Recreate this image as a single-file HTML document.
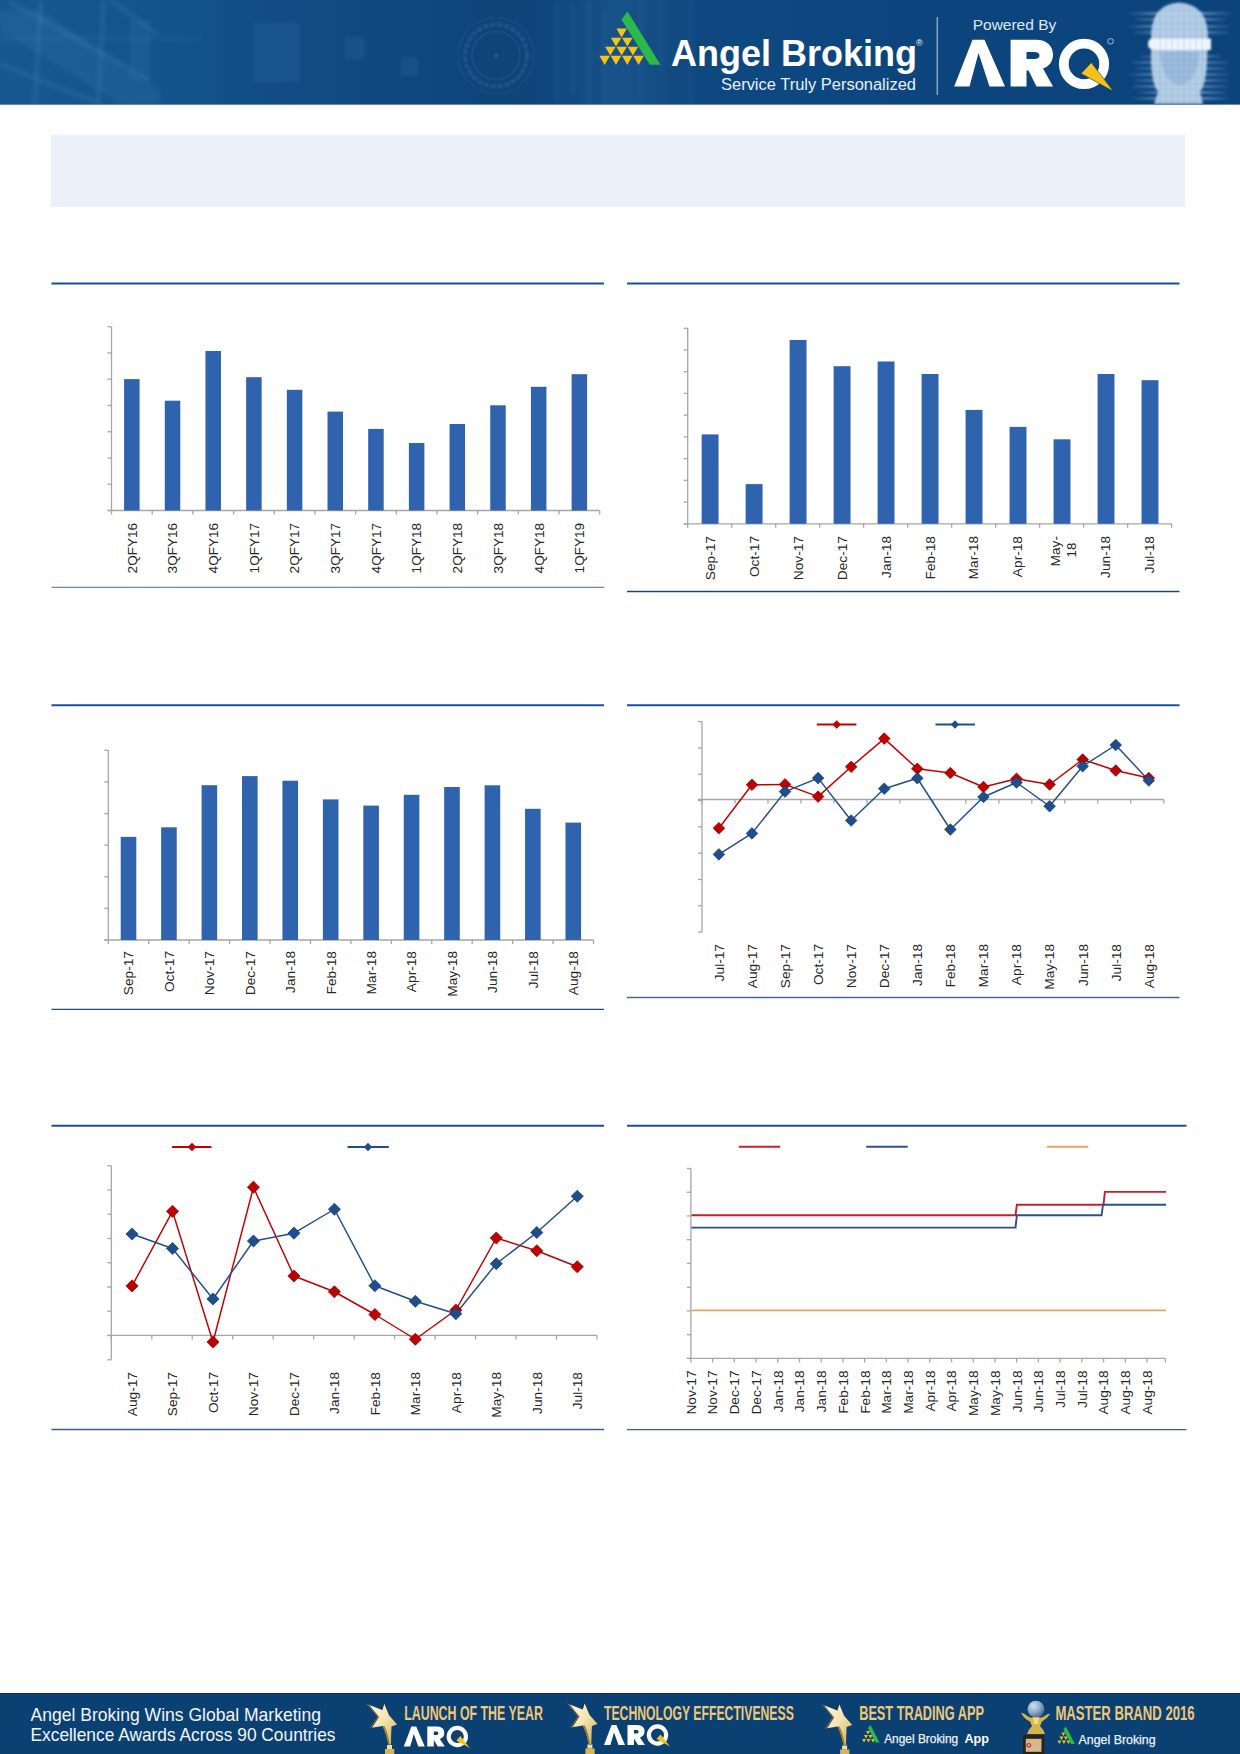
<!DOCTYPE html>
<html><head><meta charset="utf-8">
<style>
html,body{margin:0;padding:0;background:#fff;}
body{width:1240px;height:1754px;position:relative;overflow:hidden;font-family:"Liberation Sans", sans-serif;}
.abs{position:absolute;}
</style></head><body>
<!-- header -->
<div class="abs" style="left:0;top:0;width:1240px;height:105px;background:transparent;overflow:hidden;">
<svg width="1240" height="104" viewBox="0 0 1240 104" style="position:absolute;left:0;top:0" font-family='"Liberation Sans", sans-serif'>
<defs>
<linearGradient id="hbg" x1="0" y1="0" x2="1" y2="0">
<stop offset="0" stop-color="#175891"/>
<stop offset="0.12" stop-color="#14548c"/>
<stop offset="0.25" stop-color="#104b82"/>
<stop offset="0.4" stop-color="#0d4579"/>
<stop offset="0.5" stop-color="#0e477c"/>
<stop offset="0.6" stop-color="#0e4880"/>
<stop offset="0.75" stop-color="#0c457d"/>
<stop offset="1" stop-color="#0b437b"/>
</linearGradient>
<radialGradient id="head" cx="0.5" cy="0.45" r="0.5">
<stop offset="0" stop-color="#c9dcef" stop-opacity="0.85"/>
<stop offset="0.6" stop-color="#a9c6e4" stop-opacity="0.75"/>
<stop offset="1" stop-color="#7aa4d0" stop-opacity="0"/>
</radialGradient>
<linearGradient id="streak" x1="0" y1="0" x2="1" y2="0">
<stop offset="0" stop-color="#9fc0e2" stop-opacity="0"/>
<stop offset="0.5" stop-color="#9fc0e2" stop-opacity="0.55"/>
<stop offset="1" stop-color="#9fc0e2" stop-opacity="0"/>
</linearGradient>
</defs>
<rect width="1240" height="104" fill="url(#hbg)"/>
<!-- left light diagonal lines -->
<filter id="bl1" x="-10%" y="-10%" width="120%" height="120%"><feGaussianBlur stdDeviation="0.9"/></filter><filter id="bl3" x="-20%" y="-20%" width="140%" height="140%"><feGaussianBlur stdDeviation="2.2"/></filter>
<path d="M0 10 L40 10 L160 90 L160 104 L120 104 L0 30 Z" fill="#4f94c8" fill-opacity="0.12" filter="url(#bl3)"/>
<g stroke="#6aa8d6" stroke-opacity="0.26" stroke-width="2.4" fill="none" filter="url(#bl3)">
<line x1="110" y1="0" x2="158" y2="35"/>
<line x1="10" y1="2" x2="150" y2="80"/>
<line x1="0" y1="64" x2="100" y2="104"/>
<line x1="41" y1="0" x2="35" y2="104"/>
<line x1="104" y1="0" x2="98" y2="104"/>
<line x1="0" y1="38" x2="200" y2="38" stroke-opacity="0.12"/>
</g>
<g fill="#3f7fb5" fill-opacity="0.16" filter="url(#bl1)">
<rect x="130" y="20" width="20" height="60"/>
<rect x="254" y="23" width="46" height="59"/>
<rect x="345" y="37" width="19" height="22"/>
<rect x="401" y="57" width="17" height="19"/>
</g>
<!-- lens -->
<circle cx="496" cy="55.5" r="31" fill="none" stroke="#5a94c8" stroke-opacity="0.24" stroke-width="3.5" stroke-dasharray="5 2" filter="url(#bl1)"/>
<circle cx="496" cy="55.5" r="24" fill="none" stroke="#5a94c8" stroke-opacity="0.12" stroke-width="2"/><circle cx="496" cy="55.5" r="38" fill="none" stroke="#5a94c8" stroke-opacity="0.08" stroke-width="2"/>
<circle cx="496" cy="55.5" r="2" fill="#5a90c5" fill-opacity="0.3"/>
<!-- code streaks region near logo -->
<linearGradient id="codeg" x1="0" y1="0" x2="1" y2="0"><stop offset="0" stop-color="#3a7ab5" stop-opacity="0"/><stop offset="0.5" stop-color="#3a7ab5" stop-opacity="0.22"/><stop offset="1" stop-color="#3a7ab5" stop-opacity="0"/></linearGradient>
<rect x="540" y="0" width="160" height="104" fill="url(#codeg)"/>
<g fill="#5c9ad0" fill-opacity="0.2" filter="url(#bl3)">
<rect x="556" y="0" width="1.5" height="104"/><rect x="572" y="5" width="1.5" height="90"/><rect x="588" y="0" width="1.5" height="104"/><rect x="604" y="10" width="1.5" height="94"/><rect x="640" y="0" width="1.5" height="104"/><rect x="660" y="0" width="1.5" height="70"/><rect x="690" y="0" width="1.5" height="104"/>
</g>
<!-- head streaks -->
<filter id="bl2" x="-20%" y="-20%" width="140%" height="140%"><feGaussianBlur stdDeviation="1.3"/></filter>
<linearGradient id="strk" x1="0" y1="0" x2="1" y2="0">
<stop offset="0" stop-color="#9cc0e4" stop-opacity="0.05"/>
<stop offset="0.3" stop-color="#9cc0e4" stop-opacity="0.55"/>
<stop offset="0.7" stop-color="#9cc0e4" stop-opacity="0.55"/>
<stop offset="1" stop-color="#9cc0e4" stop-opacity="0.05"/>
</linearGradient>
<g fill="url(#strk)" filter="url(#bl2)">
<rect x="1129" y="12" width="102" height="3"/>
<rect x="1135" y="18" width="92" height="3"/>
<rect x="1129" y="25" width="100" height="3"/>
<rect x="1133" y="31" width="96" height="3"/>
<rect x="1140" y="55" width="82" height="3"/>
<rect x="1131" y="61" width="98" height="3"/>
<rect x="1135" y="67" width="92" height="3"/>
<rect x="1129" y="73" width="100" height="3"/>
<rect x="1133" y="79" width="96" height="3"/>
<rect x="1131" y="85" width="98" height="3"/>
<rect x="1137" y="91" width="90" height="3"/>
<rect x="1133" y="97" width="96" height="3"/>
</g>
<g filter="url(#bl2)">
<path d="M1151 40 Q1150 4 1179 2.5 Q1209 4 1208 40 L1207 62 Q1206 84 1200 92 L1203 104 L1154 104 L1158 92 Q1152 84 1151 62 Z" fill="#c3d9ef" fill-opacity="0.88"/>
<path d="M1160 53 Q1179 50 1199 53 Q1198 80 1180 86 Q1162 80 1160 53 Z" fill="#6f9ccb" fill-opacity="0.35"/>
<path d="M1152 38.5 L1211 38.5 L1211 50 L1156 50 Q1148 50 1148 44.5 Q1148 38.5 1152 38.5 Z" fill="#eef4fb"/>
</g>
<g stroke="#6f9ccb" stroke-opacity="0.25" stroke-width="0.8">
<line x1="1160" y1="9" x2="1160" y2="104"/><line x1="1166" y1="9" x2="1166" y2="104"/><line x1="1172" y1="9" x2="1172" y2="104"/><line x1="1178" y1="9" x2="1178" y2="104"/><line x1="1184" y1="9" x2="1184" y2="104"/><line x1="1190" y1="9" x2="1190" y2="104"/><line x1="1196" y1="9" x2="1196" y2="104"/><line x1="1202" y1="9" x2="1202" y2="104"/>
</g>
<!-- Angel logo: yellow triangles -->
<g fill="#f6c21a">
<path d="M616.4 28.4 L626.9 28.4 L621.65 37.5 Z"/>
<path d="M610.8 37.7 L621.3 37.7 L616.05 46.6 Z"/>
<path d="M622.1 37.7 L632.6 37.7 L627.35 46.6 Z"/>
<path d="M605.1 46.7 L615.6 46.7 L610.35 55.6 Z"/>
<path d="M616.4 46.7 L626.9 46.7 L621.65 55.6 Z"/>
<path d="M627.7 46.7 L638.2 46.7 L632.95 55.6 Z"/>
<path d="M599.4 55.8 L609.9 55.8 L604.65 65 Z"/>
<path d="M610.7 55.8 L621.2 55.8 L615.95 65 Z"/>
<path d="M622 55.8 L632.5 55.8 L627.25 65 Z"/>
<path d="M633.3 55.8 L643.8 55.8 L638.55 65 Z"/>
</g>
<path d="M621.5 19.5 L627.5 11.5 L660.5 64.8 L649.8 64.8 Z" fill="#2db84a"/>
<text x="671" y="65.6" font-size="36" font-weight="bold" fill="#fff">Angel Broking</text>
<text x="916" y="46" font-size="9" fill="#fff">®</text>
<text x="721" y="90" font-size="17.3" fill="#e8f0f8" textLength="195" lengthAdjust="spacingAndGlyphs">Service Truly Personalized</text>
<rect x="936.5" y="17" width="1.6" height="78" fill="#7f9ec4"/>
<text x="972.7" y="30" font-size="15.5" fill="#dfe8f3">Powered By</text>
<!-- ARQ -->
<path d="M954.2 86.5 L972.5 39.7 L984.5 39.7 L1005 86.5 L989.5 86.5 L978.5 53 L969.5 86.5 Z" fill="#fff"/>
<path d="M1010.6 86.5 L1010.6 39.7 L1036 39.7 C1047 39.7 1053 46 1053 54.5 C1053 61.5 1049 66.5 1043 68.5 L1053 86.5 L1036.5 86.5 L1028.5 70.5 L1026.5 70.5 L1026.5 86.5 Z M1026.5 52 L1026.5 59 L1034.5 59 C1037.5 59 1039.5 57.5 1039.5 55.5 C1039.5 53.5 1037.5 52 1034.5 52 Z" fill="#fff" fill-rule="evenodd"/>
<circle cx="1084" cy="63.9" r="20.2" fill="none" stroke="#fff" stroke-width="9.8"/>
<path d="M1081 73.5 L1091.3 62.5 L1113.5 91.5 Z" fill="#f5c21b" stroke="#1a2a40" stroke-width="0.6"/>
<circle cx="1110.6" cy="41.3" r="2.8" fill="none" stroke="#cfdcea" stroke-width="0.8"/>
</svg>
<div style="position:absolute;left:0;top:104px;width:1240px;height:1px;background:#0a3a6a;opacity:0.6;"></div>

</div>
<!-- grey box -->
<div class="abs" style="left:51px;top:135px;width:1134px;height:72px;background:#eaf1f9;"></div>
<svg class="abs" style="left:0;top:0" width="1240" height="1754" viewBox="0 0 1240 1754" font-family='"Liberation Sans", sans-serif' fill="#262626">
<line x1="51.5" y1="283.4" x2="604" y2="283.4" stroke="#1b4f9a" stroke-width="2.0"/>
<line x1="627" y1="283.4" x2="1179.5" y2="283.4" stroke="#1b4f9a" stroke-width="2.0"/>
<line x1="51.5" y1="705.2" x2="604" y2="705.2" stroke="#1b4f9a" stroke-width="2.0"/>
<line x1="627" y1="705.2" x2="1179.5" y2="705.2" stroke="#1b4f9a" stroke-width="2.0"/>
<line x1="51.5" y1="1125.7" x2="604" y2="1125.7" stroke="#1b4f9a" stroke-width="2.0"/>
<line x1="627" y1="1125.7" x2="1186.5" y2="1125.7" stroke="#1b4f9a" stroke-width="2.0"/>
<line x1="51.5" y1="587.4" x2="604" y2="587.4" stroke="#7189ab" stroke-width="1.4"/>
<line x1="627" y1="591.5" x2="1179.5" y2="591.5" stroke="#23457a" stroke-width="1.4"/>
<line x1="51.5" y1="1009.4" x2="604" y2="1009.4" stroke="#2b4c7e" stroke-width="1.4"/>
<line x1="627" y1="997.5" x2="1179.5" y2="997.5" stroke="#4a6999" stroke-width="1.4"/>
<line x1="51.5" y1="1429.5" x2="604" y2="1429.5" stroke="#3d5d8f" stroke-width="1.4"/>
<line x1="627" y1="1429.6" x2="1186.5" y2="1429.6" stroke="#3d5d8f" stroke-width="1.4"/>
<line x1="111.5" y1="326.7" x2="111.5" y2="510.5" stroke="#a6a6a6" stroke-width="1.3"/>
<line x1="107.5" y1="326.7" x2="111.5" y2="326.7" stroke="#a6a6a6" stroke-width="1.3"/>
<line x1="107.5" y1="352.96" x2="111.5" y2="352.96" stroke="#a6a6a6" stroke-width="1.3"/>
<line x1="107.5" y1="379.21" x2="111.5" y2="379.21" stroke="#a6a6a6" stroke-width="1.3"/>
<line x1="107.5" y1="405.47" x2="111.5" y2="405.47" stroke="#a6a6a6" stroke-width="1.3"/>
<line x1="107.5" y1="431.73" x2="111.5" y2="431.73" stroke="#a6a6a6" stroke-width="1.3"/>
<line x1="107.5" y1="457.99" x2="111.5" y2="457.99" stroke="#a6a6a6" stroke-width="1.3"/>
<line x1="107.5" y1="484.24" x2="111.5" y2="484.24" stroke="#a6a6a6" stroke-width="1.3"/>
<line x1="107.5" y1="510.5" x2="111.5" y2="510.5" stroke="#a6a6a6" stroke-width="1.3"/>
<line x1="107.5" y1="510.5" x2="599.7" y2="510.5" stroke="#a6a6a6" stroke-width="1.3"/>
<line x1="111.5" y1="510.5" x2="111.5" y2="514.5" stroke="#a6a6a6" stroke-width="1.3"/>
<line x1="152.18" y1="510.5" x2="152.18" y2="514.5" stroke="#a6a6a6" stroke-width="1.3"/>
<line x1="192.87" y1="510.5" x2="192.87" y2="514.5" stroke="#a6a6a6" stroke-width="1.3"/>
<line x1="233.55" y1="510.5" x2="233.55" y2="514.5" stroke="#a6a6a6" stroke-width="1.3"/>
<line x1="274.23" y1="510.5" x2="274.23" y2="514.5" stroke="#a6a6a6" stroke-width="1.3"/>
<line x1="314.92" y1="510.5" x2="314.92" y2="514.5" stroke="#a6a6a6" stroke-width="1.3"/>
<line x1="355.6" y1="510.5" x2="355.6" y2="514.5" stroke="#a6a6a6" stroke-width="1.3"/>
<line x1="396.28" y1="510.5" x2="396.28" y2="514.5" stroke="#a6a6a6" stroke-width="1.3"/>
<line x1="436.97" y1="510.5" x2="436.97" y2="514.5" stroke="#a6a6a6" stroke-width="1.3"/>
<line x1="477.65" y1="510.5" x2="477.65" y2="514.5" stroke="#a6a6a6" stroke-width="1.3"/>
<line x1="518.33" y1="510.5" x2="518.33" y2="514.5" stroke="#a6a6a6" stroke-width="1.3"/>
<line x1="559.02" y1="510.5" x2="559.02" y2="514.5" stroke="#a6a6a6" stroke-width="1.3"/>
<line x1="599.7" y1="510.5" x2="599.7" y2="514.5" stroke="#a6a6a6" stroke-width="1.3"/>
<rect x="124.09" y="379.1" width="15.5" height="131.4" fill="#2f63ae"/>
<text transform="translate(136.69,522.9) rotate(-90)" text-anchor="end" font-size="13.3" textLength="50.5" lengthAdjust="spacingAndGlyphs">2QFY16</text>
<rect x="164.78" y="400.7" width="15.5" height="109.8" fill="#2f63ae"/>
<text transform="translate(177.37,522.9) rotate(-90)" text-anchor="end" font-size="13.3" textLength="50.5" lengthAdjust="spacingAndGlyphs">3QFY16</text>
<rect x="205.46" y="351" width="15.5" height="159.5" fill="#2f63ae"/>
<text transform="translate(218.06,522.9) rotate(-90)" text-anchor="end" font-size="13.3" textLength="50.5" lengthAdjust="spacingAndGlyphs">4QFY16</text>
<rect x="246.14" y="377.2" width="15.5" height="133.3" fill="#2f63ae"/>
<text transform="translate(258.74,522.9) rotate(-90)" text-anchor="end" font-size="13.3" textLength="50.5" lengthAdjust="spacingAndGlyphs">1QFY17</text>
<rect x="286.83" y="389.8" width="15.5" height="120.7" fill="#2f63ae"/>
<text transform="translate(299.42,522.9) rotate(-90)" text-anchor="end" font-size="13.3" textLength="50.5" lengthAdjust="spacingAndGlyphs">2QFY17</text>
<rect x="327.51" y="411.6" width="15.5" height="98.9" fill="#2f63ae"/>
<text transform="translate(340.11,522.9) rotate(-90)" text-anchor="end" font-size="13.3" textLength="50.5" lengthAdjust="spacingAndGlyphs">3QFY17</text>
<rect x="368.19" y="428.9" width="15.5" height="81.6" fill="#2f63ae"/>
<text transform="translate(380.79,522.9) rotate(-90)" text-anchor="end" font-size="13.3" textLength="50.5" lengthAdjust="spacingAndGlyphs">4QFY17</text>
<rect x="408.88" y="443" width="15.5" height="67.5" fill="#2f63ae"/>
<text transform="translate(421.47,522.9) rotate(-90)" text-anchor="end" font-size="13.3" textLength="50.5" lengthAdjust="spacingAndGlyphs">1QFY18</text>
<rect x="449.56" y="424" width="15.5" height="86.5" fill="#2f63ae"/>
<text transform="translate(462.16,522.9) rotate(-90)" text-anchor="end" font-size="13.3" textLength="50.5" lengthAdjust="spacingAndGlyphs">2QFY18</text>
<rect x="490.24" y="405.3" width="15.5" height="105.2" fill="#2f63ae"/>
<text transform="translate(502.84,522.9) rotate(-90)" text-anchor="end" font-size="13.3" textLength="50.5" lengthAdjust="spacingAndGlyphs">3QFY18</text>
<rect x="530.93" y="386.8" width="15.5" height="123.7" fill="#2f63ae"/>
<text transform="translate(543.52,522.9) rotate(-90)" text-anchor="end" font-size="13.3" textLength="50.5" lengthAdjust="spacingAndGlyphs">4QFY18</text>
<rect x="571.61" y="374.2" width="15.5" height="136.3" fill="#2f63ae"/>
<text transform="translate(584.21,522.9) rotate(-90)" text-anchor="end" font-size="13.3" textLength="50.5" lengthAdjust="spacingAndGlyphs">1QFY19</text>
<line x1="687.7" y1="328.3" x2="687.7" y2="523.8" stroke="#a6a6a6" stroke-width="1.3"/>
<line x1="683.7" y1="328.3" x2="687.7" y2="328.3" stroke="#a6a6a6" stroke-width="1.3"/>
<line x1="683.7" y1="350.02" x2="687.7" y2="350.02" stroke="#a6a6a6" stroke-width="1.3"/>
<line x1="683.7" y1="371.74" x2="687.7" y2="371.74" stroke="#a6a6a6" stroke-width="1.3"/>
<line x1="683.7" y1="393.47" x2="687.7" y2="393.47" stroke="#a6a6a6" stroke-width="1.3"/>
<line x1="683.7" y1="415.19" x2="687.7" y2="415.19" stroke="#a6a6a6" stroke-width="1.3"/>
<line x1="683.7" y1="436.91" x2="687.7" y2="436.91" stroke="#a6a6a6" stroke-width="1.3"/>
<line x1="683.7" y1="458.63" x2="687.7" y2="458.63" stroke="#a6a6a6" stroke-width="1.3"/>
<line x1="683.7" y1="480.36" x2="687.7" y2="480.36" stroke="#a6a6a6" stroke-width="1.3"/>
<line x1="683.7" y1="502.08" x2="687.7" y2="502.08" stroke="#a6a6a6" stroke-width="1.3"/>
<line x1="683.7" y1="523.8" x2="687.7" y2="523.8" stroke="#a6a6a6" stroke-width="1.3"/>
<line x1="683.7" y1="523.8" x2="1171.6" y2="523.8" stroke="#a6a6a6" stroke-width="1.3"/>
<line x1="687.7" y1="523.8" x2="687.7" y2="527.8" stroke="#a6a6a6" stroke-width="1.3"/>
<line x1="731.69" y1="523.8" x2="731.69" y2="527.8" stroke="#a6a6a6" stroke-width="1.3"/>
<line x1="775.68" y1="523.8" x2="775.68" y2="527.8" stroke="#a6a6a6" stroke-width="1.3"/>
<line x1="819.67" y1="523.8" x2="819.67" y2="527.8" stroke="#a6a6a6" stroke-width="1.3"/>
<line x1="863.66" y1="523.8" x2="863.66" y2="527.8" stroke="#a6a6a6" stroke-width="1.3"/>
<line x1="907.65" y1="523.8" x2="907.65" y2="527.8" stroke="#a6a6a6" stroke-width="1.3"/>
<line x1="951.65" y1="523.8" x2="951.65" y2="527.8" stroke="#a6a6a6" stroke-width="1.3"/>
<line x1="995.64" y1="523.8" x2="995.64" y2="527.8" stroke="#a6a6a6" stroke-width="1.3"/>
<line x1="1039.63" y1="523.8" x2="1039.63" y2="527.8" stroke="#a6a6a6" stroke-width="1.3"/>
<line x1="1083.62" y1="523.8" x2="1083.62" y2="527.8" stroke="#a6a6a6" stroke-width="1.3"/>
<line x1="1127.61" y1="523.8" x2="1127.61" y2="527.8" stroke="#a6a6a6" stroke-width="1.3"/>
<line x1="1171.6" y1="523.8" x2="1171.6" y2="527.8" stroke="#a6a6a6" stroke-width="1.3"/>
<rect x="701.65" y="434.4" width="16.9" height="89.4" fill="#2f63ae"/>
<text transform="translate(714.54,536) rotate(-90) scale(1.03,1)" text-anchor="end" font-size="13.3">Sep-17</text>
<rect x="745.64" y="484.1" width="16.9" height="39.7" fill="#2f63ae"/>
<text transform="translate(758.53,536) rotate(-90) scale(1.03,1)" text-anchor="end" font-size="13.3">Oct-17</text>
<rect x="789.63" y="340" width="16.9" height="183.8" fill="#2f63ae"/>
<text transform="translate(802.53,536) rotate(-90) scale(1.03,1)" text-anchor="end" font-size="13.3">Nov-17</text>
<rect x="833.62" y="366.2" width="16.9" height="157.6" fill="#2f63ae"/>
<text transform="translate(846.52,536) rotate(-90) scale(1.03,1)" text-anchor="end" font-size="13.3">Dec-17</text>
<rect x="877.61" y="361.5" width="16.9" height="162.3" fill="#2f63ae"/>
<text transform="translate(890.51,536) rotate(-90) scale(1.03,1)" text-anchor="end" font-size="13.3">Jan-18</text>
<rect x="921.6" y="374" width="16.9" height="149.8" fill="#2f63ae"/>
<text transform="translate(934.5,536) rotate(-90) scale(1.03,1)" text-anchor="end" font-size="13.3">Feb-18</text>
<rect x="965.59" y="409.9" width="16.9" height="113.9" fill="#2f63ae"/>
<text transform="translate(978.49,536) rotate(-90) scale(1.03,1)" text-anchor="end" font-size="13.3">Mar-18</text>
<rect x="1009.58" y="426.9" width="16.9" height="96.9" fill="#2f63ae"/>
<text transform="translate(1022.48,536) rotate(-90) scale(1.03,1)" text-anchor="end" font-size="13.3">Apr-18</text>
<rect x="1053.57" y="439.3" width="16.9" height="84.5" fill="#2f63ae"/>
<text transform="translate(1059.97,536) rotate(-90) scale(1.03,1)" text-anchor="end" font-size="13.3">May-</text>
<text transform="translate(1076.32,536) rotate(-90)" text-anchor="middle" font-size="13.3" dx="-14">18</text>
<rect x="1097.56" y="374" width="16.9" height="149.8" fill="#2f63ae"/>
<text transform="translate(1110.46,536) rotate(-90) scale(1.03,1)" text-anchor="end" font-size="13.3">Jun-18</text>
<rect x="1141.55" y="380.2" width="16.9" height="143.6" fill="#2f63ae"/>
<text transform="translate(1154.45,536) rotate(-90) scale(1.03,1)" text-anchor="end" font-size="13.3">Jul-18</text>
<line x1="108.3" y1="750.3" x2="108.3" y2="940" stroke="#a6a6a6" stroke-width="1.3"/>
<line x1="104.3" y1="750.3" x2="108.3" y2="750.3" stroke="#a6a6a6" stroke-width="1.3"/>
<line x1="104.3" y1="781.92" x2="108.3" y2="781.92" stroke="#a6a6a6" stroke-width="1.3"/>
<line x1="104.3" y1="813.53" x2="108.3" y2="813.53" stroke="#a6a6a6" stroke-width="1.3"/>
<line x1="104.3" y1="845.15" x2="108.3" y2="845.15" stroke="#a6a6a6" stroke-width="1.3"/>
<line x1="104.3" y1="876.77" x2="108.3" y2="876.77" stroke="#a6a6a6" stroke-width="1.3"/>
<line x1="104.3" y1="908.38" x2="108.3" y2="908.38" stroke="#a6a6a6" stroke-width="1.3"/>
<line x1="104.3" y1="940" x2="108.3" y2="940" stroke="#a6a6a6" stroke-width="1.3"/>
<line x1="104.3" y1="940" x2="593.5" y2="940" stroke="#a6a6a6" stroke-width="1.3"/>
<line x1="108.3" y1="940" x2="108.3" y2="944" stroke="#a6a6a6" stroke-width="1.3"/>
<line x1="148.73" y1="940" x2="148.73" y2="944" stroke="#a6a6a6" stroke-width="1.3"/>
<line x1="189.17" y1="940" x2="189.17" y2="944" stroke="#a6a6a6" stroke-width="1.3"/>
<line x1="229.6" y1="940" x2="229.6" y2="944" stroke="#a6a6a6" stroke-width="1.3"/>
<line x1="270.03" y1="940" x2="270.03" y2="944" stroke="#a6a6a6" stroke-width="1.3"/>
<line x1="310.47" y1="940" x2="310.47" y2="944" stroke="#a6a6a6" stroke-width="1.3"/>
<line x1="350.9" y1="940" x2="350.9" y2="944" stroke="#a6a6a6" stroke-width="1.3"/>
<line x1="391.33" y1="940" x2="391.33" y2="944" stroke="#a6a6a6" stroke-width="1.3"/>
<line x1="431.77" y1="940" x2="431.77" y2="944" stroke="#a6a6a6" stroke-width="1.3"/>
<line x1="472.2" y1="940" x2="472.2" y2="944" stroke="#a6a6a6" stroke-width="1.3"/>
<line x1="512.63" y1="940" x2="512.63" y2="944" stroke="#a6a6a6" stroke-width="1.3"/>
<line x1="553.07" y1="940" x2="553.07" y2="944" stroke="#a6a6a6" stroke-width="1.3"/>
<line x1="593.5" y1="940" x2="593.5" y2="944" stroke="#a6a6a6" stroke-width="1.3"/>
<rect x="120.72" y="836.9" width="15.6" height="103.1" fill="#2f63ae"/>
<text transform="translate(133.36,951) rotate(-90) scale(1.03,1)" text-anchor="end" font-size="13.3">Sep-17</text>
<rect x="161.15" y="827.3" width="15.6" height="112.7" fill="#2f63ae"/>
<text transform="translate(173.8,951) rotate(-90) scale(1.03,1)" text-anchor="end" font-size="13.3">Oct-17</text>
<rect x="201.58" y="785.2" width="15.6" height="154.8" fill="#2f63ae"/>
<text transform="translate(214.23,951) rotate(-90) scale(1.03,1)" text-anchor="end" font-size="13.3">Nov-17</text>
<rect x="242.02" y="776.1" width="15.6" height="163.9" fill="#2f63ae"/>
<text transform="translate(254.66,951) rotate(-90) scale(1.03,1)" text-anchor="end" font-size="13.3">Dec-17</text>
<rect x="282.45" y="780.7" width="15.6" height="159.3" fill="#2f63ae"/>
<text transform="translate(295.1,951) rotate(-90) scale(1.03,1)" text-anchor="end" font-size="13.3">Jan-18</text>
<rect x="322.88" y="799.4" width="15.6" height="140.6" fill="#2f63ae"/>
<text transform="translate(335.53,951) rotate(-90) scale(1.03,1)" text-anchor="end" font-size="13.3">Feb-18</text>
<rect x="363.32" y="805.6" width="15.6" height="134.4" fill="#2f63ae"/>
<text transform="translate(375.96,951) rotate(-90) scale(1.03,1)" text-anchor="end" font-size="13.3">Mar-18</text>
<rect x="403.75" y="794.8" width="15.6" height="145.2" fill="#2f63ae"/>
<text transform="translate(416.4,951) rotate(-90) scale(1.03,1)" text-anchor="end" font-size="13.3">Apr-18</text>
<rect x="444.18" y="787" width="15.6" height="153" fill="#2f63ae"/>
<text transform="translate(456.83,951) rotate(-90) scale(1.03,1)" text-anchor="end" font-size="13.3">May-18</text>
<rect x="484.62" y="785.3" width="15.6" height="154.7" fill="#2f63ae"/>
<text transform="translate(497.26,951) rotate(-90) scale(1.03,1)" text-anchor="end" font-size="13.3">Jun-18</text>
<rect x="525.05" y="808.8" width="15.6" height="131.2" fill="#2f63ae"/>
<text transform="translate(537.7,951) rotate(-90) scale(1.03,1)" text-anchor="end" font-size="13.3">Jul-18</text>
<rect x="565.48" y="822.6" width="15.6" height="117.4" fill="#2f63ae"/>
<text transform="translate(578.13,951) rotate(-90) scale(1.03,1)" text-anchor="end" font-size="13.3">Aug-18</text>
<line x1="702" y1="721.6" x2="702" y2="932.1" stroke="#a6a6a6" stroke-width="1.3"/>
<line x1="698" y1="721.6" x2="702" y2="721.6" stroke="#a6a6a6" stroke-width="1.3"/>
<line x1="698" y1="747.91" x2="702" y2="747.91" stroke="#a6a6a6" stroke-width="1.3"/>
<line x1="698" y1="774.23" x2="702" y2="774.23" stroke="#a6a6a6" stroke-width="1.3"/>
<line x1="698" y1="800.54" x2="702" y2="800.54" stroke="#a6a6a6" stroke-width="1.3"/>
<line x1="698" y1="826.85" x2="702" y2="826.85" stroke="#a6a6a6" stroke-width="1.3"/>
<line x1="698" y1="853.16" x2="702" y2="853.16" stroke="#a6a6a6" stroke-width="1.3"/>
<line x1="698" y1="879.48" x2="702" y2="879.48" stroke="#a6a6a6" stroke-width="1.3"/>
<line x1="698" y1="905.79" x2="702" y2="905.79" stroke="#a6a6a6" stroke-width="1.3"/>
<line x1="698" y1="932.1" x2="702" y2="932.1" stroke="#a6a6a6" stroke-width="1.3"/>
<line x1="698" y1="799.5" x2="1163.75" y2="799.5" stroke="#a6a6a6" stroke-width="1.3"/>
<line x1="702" y1="799.5" x2="702" y2="803.5" stroke="#a6a6a6" stroke-width="1.3"/>
<line x1="734.98" y1="799.5" x2="734.98" y2="803.5" stroke="#a6a6a6" stroke-width="1.3"/>
<line x1="767.96" y1="799.5" x2="767.96" y2="803.5" stroke="#a6a6a6" stroke-width="1.3"/>
<line x1="800.95" y1="799.5" x2="800.95" y2="803.5" stroke="#a6a6a6" stroke-width="1.3"/>
<line x1="833.93" y1="799.5" x2="833.93" y2="803.5" stroke="#a6a6a6" stroke-width="1.3"/>
<line x1="866.91" y1="799.5" x2="866.91" y2="803.5" stroke="#a6a6a6" stroke-width="1.3"/>
<line x1="899.89" y1="799.5" x2="899.89" y2="803.5" stroke="#a6a6a6" stroke-width="1.3"/>
<line x1="932.88" y1="799.5" x2="932.88" y2="803.5" stroke="#a6a6a6" stroke-width="1.3"/>
<line x1="965.86" y1="799.5" x2="965.86" y2="803.5" stroke="#a6a6a6" stroke-width="1.3"/>
<line x1="998.84" y1="799.5" x2="998.84" y2="803.5" stroke="#a6a6a6" stroke-width="1.3"/>
<line x1="1031.82" y1="799.5" x2="1031.82" y2="803.5" stroke="#a6a6a6" stroke-width="1.3"/>
<line x1="1064.8" y1="799.5" x2="1064.8" y2="803.5" stroke="#a6a6a6" stroke-width="1.3"/>
<line x1="1097.79" y1="799.5" x2="1097.79" y2="803.5" stroke="#a6a6a6" stroke-width="1.3"/>
<line x1="1130.77" y1="799.5" x2="1130.77" y2="803.5" stroke="#a6a6a6" stroke-width="1.3"/>
<line x1="1163.75" y1="799.5" x2="1163.75" y2="803.5" stroke="#a6a6a6" stroke-width="1.3"/>
<polyline points="718.9,828.2 751.97,784.8 785.04,784.4 818.11,796.6 851.18,766.8 884.25,738.6 917.32,768.75 950.39,773 983.46,787 1016.53,778.75 1049.6,784.5 1082.67,759.5 1115.74,770.5 1148.81,778" fill="none" stroke="#c00000" stroke-width="1.45" stroke-linejoin="round"/>
<polyline points="718.9,854.4 751.97,833.4 785.04,791.6 818.11,778.1 851.18,820.5 884.25,788.7 917.32,778.25 950.39,829.5 983.46,797 1016.53,782.5 1049.6,806.25 1082.67,766.25 1115.74,745 1148.81,780.5" fill="none" stroke="#1f4e8c" stroke-width="1.45" stroke-linejoin="round"/>
<path d="M718.9 822.4L724.7 828.2L718.9 834L713.1 828.2Z" fill="#c00000" stroke="#8a0000" stroke-width="0.7"/>
<path d="M751.97 779L757.77 784.8L751.97 790.6L746.17 784.8Z" fill="#c00000" stroke="#8a0000" stroke-width="0.7"/>
<path d="M785.04 778.6L790.84 784.4L785.04 790.2L779.24 784.4Z" fill="#c00000" stroke="#8a0000" stroke-width="0.7"/>
<path d="M818.11 790.8L823.91 796.6L818.11 802.4L812.31 796.6Z" fill="#c00000" stroke="#8a0000" stroke-width="0.7"/>
<path d="M851.18 761L856.98 766.8L851.18 772.6L845.38 766.8Z" fill="#c00000" stroke="#8a0000" stroke-width="0.7"/>
<path d="M884.25 732.8L890.05 738.6L884.25 744.4L878.45 738.6Z" fill="#c00000" stroke="#8a0000" stroke-width="0.7"/>
<path d="M917.32 762.95L923.12 768.75L917.32 774.55L911.52 768.75Z" fill="#c00000" stroke="#8a0000" stroke-width="0.7"/>
<path d="M950.39 767.2L956.19 773L950.39 778.8L944.59 773Z" fill="#c00000" stroke="#8a0000" stroke-width="0.7"/>
<path d="M983.46 781.2L989.26 787L983.46 792.8L977.66 787Z" fill="#c00000" stroke="#8a0000" stroke-width="0.7"/>
<path d="M1016.53 772.95L1022.33 778.75L1016.53 784.55L1010.73 778.75Z" fill="#c00000" stroke="#8a0000" stroke-width="0.7"/>
<path d="M1049.6 778.7L1055.4 784.5L1049.6 790.3L1043.8 784.5Z" fill="#c00000" stroke="#8a0000" stroke-width="0.7"/>
<path d="M1082.67 753.7L1088.47 759.5L1082.67 765.3L1076.87 759.5Z" fill="#c00000" stroke="#8a0000" stroke-width="0.7"/>
<path d="M1115.74 764.7L1121.54 770.5L1115.74 776.3L1109.94 770.5Z" fill="#c00000" stroke="#8a0000" stroke-width="0.7"/>
<path d="M1148.81 772.2L1154.61 778L1148.81 783.8L1143.01 778Z" fill="#c00000" stroke="#8a0000" stroke-width="0.7"/>
<path d="M718.9 848.6L724.7 854.4L718.9 860.2L713.1 854.4Z" fill="#1f4e8c" stroke="#163a6a" stroke-width="0.7"/>
<path d="M751.97 827.6L757.77 833.4L751.97 839.2L746.17 833.4Z" fill="#1f4e8c" stroke="#163a6a" stroke-width="0.7"/>
<path d="M785.04 785.8L790.84 791.6L785.04 797.4L779.24 791.6Z" fill="#1f4e8c" stroke="#163a6a" stroke-width="0.7"/>
<path d="M818.11 772.3L823.91 778.1L818.11 783.9L812.31 778.1Z" fill="#1f4e8c" stroke="#163a6a" stroke-width="0.7"/>
<path d="M851.18 814.7L856.98 820.5L851.18 826.3L845.38 820.5Z" fill="#1f4e8c" stroke="#163a6a" stroke-width="0.7"/>
<path d="M884.25 782.9L890.05 788.7L884.25 794.5L878.45 788.7Z" fill="#1f4e8c" stroke="#163a6a" stroke-width="0.7"/>
<path d="M917.32 772.45L923.12 778.25L917.32 784.05L911.52 778.25Z" fill="#1f4e8c" stroke="#163a6a" stroke-width="0.7"/>
<path d="M950.39 823.7L956.19 829.5L950.39 835.3L944.59 829.5Z" fill="#1f4e8c" stroke="#163a6a" stroke-width="0.7"/>
<path d="M983.46 791.2L989.26 797L983.46 802.8L977.66 797Z" fill="#1f4e8c" stroke="#163a6a" stroke-width="0.7"/>
<path d="M1016.53 776.7L1022.33 782.5L1016.53 788.3L1010.73 782.5Z" fill="#1f4e8c" stroke="#163a6a" stroke-width="0.7"/>
<path d="M1049.6 800.45L1055.4 806.25L1049.6 812.05L1043.8 806.25Z" fill="#1f4e8c" stroke="#163a6a" stroke-width="0.7"/>
<path d="M1082.67 760.45L1088.47 766.25L1082.67 772.05L1076.87 766.25Z" fill="#1f4e8c" stroke="#163a6a" stroke-width="0.7"/>
<path d="M1115.74 739.2L1121.54 745L1115.74 750.8L1109.94 745Z" fill="#1f4e8c" stroke="#163a6a" stroke-width="0.7"/>
<path d="M1148.81 774.7L1154.61 780.5L1148.81 786.3L1143.01 780.5Z" fill="#1f4e8c" stroke="#163a6a" stroke-width="0.7"/>
<text transform="translate(723.75,944) rotate(-90) scale(1.03,1)" text-anchor="end" font-size="13.3">Jul-17</text>
<text transform="translate(756.82,944) rotate(-90) scale(1.03,1)" text-anchor="end" font-size="13.3">Aug-17</text>
<text transform="translate(789.89,944) rotate(-90) scale(1.03,1)" text-anchor="end" font-size="13.3">Sep-17</text>
<text transform="translate(822.96,944) rotate(-90) scale(1.03,1)" text-anchor="end" font-size="13.3">Oct-17</text>
<text transform="translate(856.03,944) rotate(-90) scale(1.03,1)" text-anchor="end" font-size="13.3">Nov-17</text>
<text transform="translate(889.1,944) rotate(-90) scale(1.03,1)" text-anchor="end" font-size="13.3">Dec-17</text>
<text transform="translate(922.17,944) rotate(-90) scale(1.03,1)" text-anchor="end" font-size="13.3">Jan-18</text>
<text transform="translate(955.24,944) rotate(-90) scale(1.03,1)" text-anchor="end" font-size="13.3">Feb-18</text>
<text transform="translate(988.31,944) rotate(-90) scale(1.03,1)" text-anchor="end" font-size="13.3">Mar-18</text>
<text transform="translate(1021.38,944) rotate(-90) scale(1.03,1)" text-anchor="end" font-size="13.3">Apr-18</text>
<text transform="translate(1054.45,944) rotate(-90) scale(1.03,1)" text-anchor="end" font-size="13.3">May-18</text>
<text transform="translate(1087.52,944) rotate(-90) scale(1.03,1)" text-anchor="end" font-size="13.3">Jun-18</text>
<text transform="translate(1120.59,944) rotate(-90) scale(1.03,1)" text-anchor="end" font-size="13.3">Jul-18</text>
<text transform="translate(1153.66,944) rotate(-90) scale(1.03,1)" text-anchor="end" font-size="13.3">Aug-18</text>
<line x1="816.9" y1="724.5" x2="856.4" y2="724.5" stroke="#c00000" stroke-width="1.8"/>
<path d="M836.7 720.3L840.9 724.5L836.7 728.7L832.5 724.5Z" fill="#c00000"/>
<line x1="935.5" y1="724.5" x2="975" y2="724.5" stroke="#1f4e8c" stroke-width="1.8"/>
<path d="M955 720.3L959.2 724.5L955 728.7L950.8 724.5Z" fill="#1f4e8c"/>
<line x1="111.3" y1="1165.7" x2="111.3" y2="1359.8" stroke="#a6a6a6" stroke-width="1.3"/>
<line x1="107.3" y1="1165.7" x2="111.3" y2="1165.7" stroke="#a6a6a6" stroke-width="1.3"/>
<line x1="107.3" y1="1189.96" x2="111.3" y2="1189.96" stroke="#a6a6a6" stroke-width="1.3"/>
<line x1="107.3" y1="1214.22" x2="111.3" y2="1214.22" stroke="#a6a6a6" stroke-width="1.3"/>
<line x1="107.3" y1="1238.49" x2="111.3" y2="1238.49" stroke="#a6a6a6" stroke-width="1.3"/>
<line x1="107.3" y1="1262.75" x2="111.3" y2="1262.75" stroke="#a6a6a6" stroke-width="1.3"/>
<line x1="107.3" y1="1287.01" x2="111.3" y2="1287.01" stroke="#a6a6a6" stroke-width="1.3"/>
<line x1="107.3" y1="1311.28" x2="111.3" y2="1311.28" stroke="#a6a6a6" stroke-width="1.3"/>
<line x1="107.3" y1="1335.54" x2="111.3" y2="1335.54" stroke="#a6a6a6" stroke-width="1.3"/>
<line x1="107.3" y1="1359.8" x2="111.3" y2="1359.8" stroke="#a6a6a6" stroke-width="1.3"/>
<line x1="107.3" y1="1335.4" x2="597" y2="1335.4" stroke="#a6a6a6" stroke-width="1.3"/>
<line x1="111.3" y1="1335.4" x2="111.3" y2="1339.4" stroke="#a6a6a6" stroke-width="1.3"/>
<line x1="151.78" y1="1335.4" x2="151.78" y2="1339.4" stroke="#a6a6a6" stroke-width="1.3"/>
<line x1="192.25" y1="1335.4" x2="192.25" y2="1339.4" stroke="#a6a6a6" stroke-width="1.3"/>
<line x1="232.72" y1="1335.4" x2="232.72" y2="1339.4" stroke="#a6a6a6" stroke-width="1.3"/>
<line x1="273.2" y1="1335.4" x2="273.2" y2="1339.4" stroke="#a6a6a6" stroke-width="1.3"/>
<line x1="313.68" y1="1335.4" x2="313.68" y2="1339.4" stroke="#a6a6a6" stroke-width="1.3"/>
<line x1="354.15" y1="1335.4" x2="354.15" y2="1339.4" stroke="#a6a6a6" stroke-width="1.3"/>
<line x1="394.62" y1="1335.4" x2="394.62" y2="1339.4" stroke="#a6a6a6" stroke-width="1.3"/>
<line x1="435.1" y1="1335.4" x2="435.1" y2="1339.4" stroke="#a6a6a6" stroke-width="1.3"/>
<line x1="475.58" y1="1335.4" x2="475.58" y2="1339.4" stroke="#a6a6a6" stroke-width="1.3"/>
<line x1="516.05" y1="1335.4" x2="516.05" y2="1339.4" stroke="#a6a6a6" stroke-width="1.3"/>
<line x1="556.52" y1="1335.4" x2="556.52" y2="1339.4" stroke="#a6a6a6" stroke-width="1.3"/>
<line x1="597" y1="1335.4" x2="597" y2="1339.4" stroke="#a6a6a6" stroke-width="1.3"/>
<polyline points="132.04,1285.9 172.51,1211.3 212.99,1342 253.46,1187.2 293.94,1276 334.41,1291.75 374.89,1314.5 415.36,1339.25 455.84,1310 496.31,1238 536.79,1250.75 577.26,1266.75" fill="none" stroke="#c00000" stroke-width="1.45" stroke-linejoin="round"/>
<polyline points="132.04,1234 172.51,1248.5 212.99,1299 253.46,1241 293.94,1233.2 334.41,1209.25 374.89,1285.75 415.36,1301.25 455.84,1313.75 496.31,1263.75 536.79,1232.5 577.26,1196.25" fill="none" stroke="#1f4e8c" stroke-width="1.45" stroke-linejoin="round"/>
<path d="M132.04 1279.8L138.14 1285.9L132.04 1292L125.94 1285.9Z" fill="#c00000" stroke="#8a0000" stroke-width="0.7"/>
<path d="M172.51 1205.2L178.61 1211.3L172.51 1217.4L166.41 1211.3Z" fill="#c00000" stroke="#8a0000" stroke-width="0.7"/>
<path d="M212.99 1335.9L219.09 1342L212.99 1348.1L206.89 1342Z" fill="#c00000" stroke="#8a0000" stroke-width="0.7"/>
<path d="M253.46 1181.1L259.56 1187.2L253.46 1193.3L247.36 1187.2Z" fill="#c00000" stroke="#8a0000" stroke-width="0.7"/>
<path d="M293.94 1269.9L300.04 1276L293.94 1282.1L287.84 1276Z" fill="#c00000" stroke="#8a0000" stroke-width="0.7"/>
<path d="M334.41 1285.65L340.51 1291.75L334.41 1297.85L328.31 1291.75Z" fill="#c00000" stroke="#8a0000" stroke-width="0.7"/>
<path d="M374.89 1308.4L380.99 1314.5L374.89 1320.6L368.79 1314.5Z" fill="#c00000" stroke="#8a0000" stroke-width="0.7"/>
<path d="M415.36 1333.15L421.46 1339.25L415.36 1345.35L409.26 1339.25Z" fill="#c00000" stroke="#8a0000" stroke-width="0.7"/>
<path d="M455.84 1303.9L461.94 1310L455.84 1316.1L449.74 1310Z" fill="#c00000" stroke="#8a0000" stroke-width="0.7"/>
<path d="M496.31 1231.9L502.41 1238L496.31 1244.1L490.21 1238Z" fill="#c00000" stroke="#8a0000" stroke-width="0.7"/>
<path d="M536.79 1244.65L542.89 1250.75L536.79 1256.85L530.69 1250.75Z" fill="#c00000" stroke="#8a0000" stroke-width="0.7"/>
<path d="M577.26 1260.65L583.36 1266.75L577.26 1272.85L571.16 1266.75Z" fill="#c00000" stroke="#8a0000" stroke-width="0.7"/>
<path d="M132.04 1227.9L138.14 1234L132.04 1240.1L125.94 1234Z" fill="#1f4e8c" stroke="#163a6a" stroke-width="0.7"/>
<path d="M172.51 1242.4L178.61 1248.5L172.51 1254.6L166.41 1248.5Z" fill="#1f4e8c" stroke="#163a6a" stroke-width="0.7"/>
<path d="M212.99 1292.9L219.09 1299L212.99 1305.1L206.89 1299Z" fill="#1f4e8c" stroke="#163a6a" stroke-width="0.7"/>
<path d="M253.46 1234.9L259.56 1241L253.46 1247.1L247.36 1241Z" fill="#1f4e8c" stroke="#163a6a" stroke-width="0.7"/>
<path d="M293.94 1227.1L300.04 1233.2L293.94 1239.3L287.84 1233.2Z" fill="#1f4e8c" stroke="#163a6a" stroke-width="0.7"/>
<path d="M334.41 1203.15L340.51 1209.25L334.41 1215.35L328.31 1209.25Z" fill="#1f4e8c" stroke="#163a6a" stroke-width="0.7"/>
<path d="M374.89 1279.65L380.99 1285.75L374.89 1291.85L368.79 1285.75Z" fill="#1f4e8c" stroke="#163a6a" stroke-width="0.7"/>
<path d="M415.36 1295.15L421.46 1301.25L415.36 1307.35L409.26 1301.25Z" fill="#1f4e8c" stroke="#163a6a" stroke-width="0.7"/>
<path d="M455.84 1307.65L461.94 1313.75L455.84 1319.85L449.74 1313.75Z" fill="#1f4e8c" stroke="#163a6a" stroke-width="0.7"/>
<path d="M496.31 1257.65L502.41 1263.75L496.31 1269.85L490.21 1263.75Z" fill="#1f4e8c" stroke="#163a6a" stroke-width="0.7"/>
<path d="M536.79 1226.4L542.89 1232.5L536.79 1238.6L530.69 1232.5Z" fill="#1f4e8c" stroke="#163a6a" stroke-width="0.7"/>
<path d="M577.26 1190.15L583.36 1196.25L577.26 1202.35L571.16 1196.25Z" fill="#1f4e8c" stroke="#163a6a" stroke-width="0.7"/>
<text transform="translate(136.89,1372) rotate(-90) scale(1.03,1)" text-anchor="end" font-size="13.3">Aug-17</text>
<text transform="translate(177.36,1372) rotate(-90) scale(1.03,1)" text-anchor="end" font-size="13.3">Sep-17</text>
<text transform="translate(217.84,1372) rotate(-90) scale(1.03,1)" text-anchor="end" font-size="13.3">Oct-17</text>
<text transform="translate(258.31,1372) rotate(-90) scale(1.03,1)" text-anchor="end" font-size="13.3">Nov-17</text>
<text transform="translate(298.79,1372) rotate(-90) scale(1.03,1)" text-anchor="end" font-size="13.3">Dec-17</text>
<text transform="translate(339.26,1372) rotate(-90) scale(1.03,1)" text-anchor="end" font-size="13.3">Jan-18</text>
<text transform="translate(379.74,1372) rotate(-90) scale(1.03,1)" text-anchor="end" font-size="13.3">Feb-18</text>
<text transform="translate(420.21,1372) rotate(-90) scale(1.03,1)" text-anchor="end" font-size="13.3">Mar-18</text>
<text transform="translate(460.69,1372) rotate(-90) scale(1.03,1)" text-anchor="end" font-size="13.3">Apr-18</text>
<text transform="translate(501.16,1372) rotate(-90) scale(1.03,1)" text-anchor="end" font-size="13.3">May-18</text>
<text transform="translate(541.64,1372) rotate(-90) scale(1.03,1)" text-anchor="end" font-size="13.3">Jun-18</text>
<text transform="translate(582.11,1372) rotate(-90) scale(1.03,1)" text-anchor="end" font-size="13.3">Jul-18</text>
<line x1="172.1" y1="1147" x2="211.4" y2="1147" stroke="#c00000" stroke-width="1.8"/>
<path d="M192 1142.8L196.2 1147L192 1151.2L187.8 1147Z" fill="#c00000"/>
<line x1="347.5" y1="1147" x2="388.75" y2="1147" stroke="#1f4e8c" stroke-width="1.8"/>
<path d="M368 1142.8L372.2 1147L368 1151.2L363.8 1147Z" fill="#1f4e8c"/>
<line x1="690.9" y1="1168.5" x2="690.9" y2="1358.4" stroke="#a6a6a6" stroke-width="1.3"/>
<line x1="686.9" y1="1168.5" x2="690.9" y2="1168.5" stroke="#a6a6a6" stroke-width="1.3"/>
<line x1="686.9" y1="1192.24" x2="690.9" y2="1192.24" stroke="#a6a6a6" stroke-width="1.3"/>
<line x1="686.9" y1="1215.97" x2="690.9" y2="1215.97" stroke="#a6a6a6" stroke-width="1.3"/>
<line x1="686.9" y1="1239.71" x2="690.9" y2="1239.71" stroke="#a6a6a6" stroke-width="1.3"/>
<line x1="686.9" y1="1263.45" x2="690.9" y2="1263.45" stroke="#a6a6a6" stroke-width="1.3"/>
<line x1="686.9" y1="1287.19" x2="690.9" y2="1287.19" stroke="#a6a6a6" stroke-width="1.3"/>
<line x1="686.9" y1="1310.93" x2="690.9" y2="1310.93" stroke="#a6a6a6" stroke-width="1.3"/>
<line x1="686.9" y1="1334.66" x2="690.9" y2="1334.66" stroke="#a6a6a6" stroke-width="1.3"/>
<line x1="686.9" y1="1358.4" x2="690.9" y2="1358.4" stroke="#a6a6a6" stroke-width="1.3"/>
<line x1="686.9" y1="1358.4" x2="1165.4" y2="1358.4" stroke="#a6a6a6" stroke-width="1.3"/>
<line x1="690.9" y1="1358.4" x2="690.9" y2="1362.4" stroke="#a6a6a6" stroke-width="1.3"/>
<line x1="712.62" y1="1358.4" x2="712.62" y2="1362.4" stroke="#a6a6a6" stroke-width="1.3"/>
<line x1="734.34" y1="1358.4" x2="734.34" y2="1362.4" stroke="#a6a6a6" stroke-width="1.3"/>
<line x1="756.06" y1="1358.4" x2="756.06" y2="1362.4" stroke="#a6a6a6" stroke-width="1.3"/>
<line x1="777.78" y1="1358.4" x2="777.78" y2="1362.4" stroke="#a6a6a6" stroke-width="1.3"/>
<line x1="799.5" y1="1358.4" x2="799.5" y2="1362.4" stroke="#a6a6a6" stroke-width="1.3"/>
<line x1="821.22" y1="1358.4" x2="821.22" y2="1362.4" stroke="#a6a6a6" stroke-width="1.3"/>
<line x1="842.94" y1="1358.4" x2="842.94" y2="1362.4" stroke="#a6a6a6" stroke-width="1.3"/>
<line x1="864.66" y1="1358.4" x2="864.66" y2="1362.4" stroke="#a6a6a6" stroke-width="1.3"/>
<line x1="886.38" y1="1358.4" x2="886.38" y2="1362.4" stroke="#a6a6a6" stroke-width="1.3"/>
<line x1="908.1" y1="1358.4" x2="908.1" y2="1362.4" stroke="#a6a6a6" stroke-width="1.3"/>
<line x1="929.82" y1="1358.4" x2="929.82" y2="1362.4" stroke="#a6a6a6" stroke-width="1.3"/>
<line x1="951.54" y1="1358.4" x2="951.54" y2="1362.4" stroke="#a6a6a6" stroke-width="1.3"/>
<line x1="973.26" y1="1358.4" x2="973.26" y2="1362.4" stroke="#a6a6a6" stroke-width="1.3"/>
<line x1="994.98" y1="1358.4" x2="994.98" y2="1362.4" stroke="#a6a6a6" stroke-width="1.3"/>
<line x1="1016.7" y1="1358.4" x2="1016.7" y2="1362.4" stroke="#a6a6a6" stroke-width="1.3"/>
<line x1="1038.42" y1="1358.4" x2="1038.42" y2="1362.4" stroke="#a6a6a6" stroke-width="1.3"/>
<line x1="1060.14" y1="1358.4" x2="1060.14" y2="1362.4" stroke="#a6a6a6" stroke-width="1.3"/>
<line x1="1081.86" y1="1358.4" x2="1081.86" y2="1362.4" stroke="#a6a6a6" stroke-width="1.3"/>
<line x1="1103.58" y1="1358.4" x2="1103.58" y2="1362.4" stroke="#a6a6a6" stroke-width="1.3"/>
<line x1="1125.3" y1="1358.4" x2="1125.3" y2="1362.4" stroke="#a6a6a6" stroke-width="1.3"/>
<line x1="1147.02" y1="1358.4" x2="1147.02" y2="1362.4" stroke="#a6a6a6" stroke-width="1.3"/>
<line x1="1165.4" y1="1358.4" x2="1165.4" y2="1362.4" stroke="#a6a6a6" stroke-width="1.3"/>
<text transform="translate(695.75,1370.4) rotate(-90) scale(1.03,1)" text-anchor="end" font-size="13.3">Nov-17</text>
<text transform="translate(717.47,1370.4) rotate(-90) scale(1.03,1)" text-anchor="end" font-size="13.3">Nov-17</text>
<text transform="translate(739.19,1370.4) rotate(-90) scale(1.03,1)" text-anchor="end" font-size="13.3">Dec-17</text>
<text transform="translate(760.91,1370.4) rotate(-90) scale(1.03,1)" text-anchor="end" font-size="13.3">Dec-17</text>
<text transform="translate(782.63,1370.4) rotate(-90) scale(1.03,1)" text-anchor="end" font-size="13.3">Jan-18</text>
<text transform="translate(804.35,1370.4) rotate(-90) scale(1.03,1)" text-anchor="end" font-size="13.3">Jan-18</text>
<text transform="translate(826.07,1370.4) rotate(-90) scale(1.03,1)" text-anchor="end" font-size="13.3">Jan-18</text>
<text transform="translate(847.79,1370.4) rotate(-90) scale(1.03,1)" text-anchor="end" font-size="13.3">Feb-18</text>
<text transform="translate(869.51,1370.4) rotate(-90) scale(1.03,1)" text-anchor="end" font-size="13.3">Feb-18</text>
<text transform="translate(891.23,1370.4) rotate(-90) scale(1.03,1)" text-anchor="end" font-size="13.3">Mar-18</text>
<text transform="translate(912.95,1370.4) rotate(-90) scale(1.03,1)" text-anchor="end" font-size="13.3">Mar-18</text>
<text transform="translate(934.67,1370.4) rotate(-90) scale(1.03,1)" text-anchor="end" font-size="13.3">Apr-18</text>
<text transform="translate(956.39,1370.4) rotate(-90) scale(1.03,1)" text-anchor="end" font-size="13.3">Apr-18</text>
<text transform="translate(978.11,1370.4) rotate(-90) scale(1.03,1)" text-anchor="end" font-size="13.3">May-18</text>
<text transform="translate(999.83,1370.4) rotate(-90) scale(1.03,1)" text-anchor="end" font-size="13.3">May-18</text>
<text transform="translate(1021.55,1370.4) rotate(-90) scale(1.03,1)" text-anchor="end" font-size="13.3">Jun-18</text>
<text transform="translate(1043.27,1370.4) rotate(-90) scale(1.03,1)" text-anchor="end" font-size="13.3">Jun-18</text>
<text transform="translate(1064.99,1370.4) rotate(-90) scale(1.03,1)" text-anchor="end" font-size="13.3">Jul-18</text>
<text transform="translate(1086.71,1370.4) rotate(-90) scale(1.03,1)" text-anchor="end" font-size="13.3">Jul-18</text>
<text transform="translate(1108.43,1370.4) rotate(-90) scale(1.03,1)" text-anchor="end" font-size="13.3">Aug-18</text>
<text transform="translate(1130.15,1370.4) rotate(-90) scale(1.03,1)" text-anchor="end" font-size="13.3">Aug-18</text>
<text transform="translate(1151.87,1370.4) rotate(-90) scale(1.03,1)" text-anchor="end" font-size="13.3">Aug-18</text>
<polyline points="691.5,1215.2 1015.5,1215.2 1016.9,1204.7 1103.5,1204.7 1104.9,1191.9 1166,1191.9" fill="none" stroke="#c8202a" stroke-width="1.9"/>
<polyline points="691.5,1227.6 1015.5,1227.6 1016.9,1215.2 1101.6,1215.2 1103,1204.7 1166,1204.7" fill="none" stroke="#2a5288" stroke-width="1.9"/>
<line x1="691.5" y1="1310.4" x2="1166" y2="1310.4" stroke="#f0a060" stroke-width="1.9"/>
<line x1="738.8" y1="1146.7" x2="780.2" y2="1146.7" stroke="#c8202a" stroke-width="1.9"/>
<line x1="866.3" y1="1146.7" x2="907.7" y2="1146.7" stroke="#2a5288" stroke-width="1.9"/>
<line x1="1046.9" y1="1146.7" x2="1088.3" y2="1146.7" stroke="#f0a060" stroke-width="1.9"/>
</svg>
<!-- footer -->
<div class="abs" style="left:0;top:1693px;width:1240px;height:61px;background:#0b4072;overflow:hidden;">
<svg width="1240" height="61" viewBox="0 1693 1240 61" style="position:absolute;left:0;top:0" font-family='"Liberation Sans", sans-serif'>
<defs>
<linearGradient id="gold" x1="0" y1="0" x2="1" y2="1">
<stop offset="0" stop-color="#fffbe6"/>
<stop offset="0.5" stop-color="#f3e3b0"/>
<stop offset="0.8" stop-color="#e0c070"/>
<stop offset="1" stop-color="#b08a38"/>
</linearGradient>
<g id="star">
<path d="M6.9 9.1 L17.7 21.8 L10.1 33.1 L22.6 31 Q26 38 28.5 49.6 L31 49.6 Q31 40 31.5 31.5 L37.1 29.4 L29 20.2 L24.2 8.7 L22.2 14.9 Z" fill="url(#gold)"/>
<path d="M6.9 9.1 L17.7 21.8 L10.1 33.1 L12 33 L19 22 L9 9.5 Z" fill="#3b2c12" fill-opacity="0.8"/>
<path d="M22.6 31 Q26 38 28.5 49.6 L29.5 49.6 Q28 38 24.5 31 Z" fill="#a07a28"/>
<path d="M24.2 8.7 L22.2 14.9 L21 14 L23 8.5 Z" fill="#3b2c12" fill-opacity="0.7"/>
<rect x="25" y="54" width="9.3" height="6" fill="#d6b45c"/>
<rect x="27" y="50" width="5" height="4" fill="#efe0a8"/>
</g>
<g id="arq">
<path d="M0 20 L7.6 0 L12.4 0 L21 20 L14.5 20 L10 7.5 L6.4 20 Z" fill="#fff"/>
<path d="M23.5 0 L33.5 0 Q40.5 0 40.5 6.5 Q40.5 11 36 12.6 L41 20 L34 20 L30 13.5 L30 20 L23.5 20 Z M30 5 L30 8.6 L33 8.6 Q34.6 8.6 34.6 6.8 Q34.6 5 33 5 Z" fill="#fff" fill-rule="evenodd"/>
<circle cx="53.5" cy="10" r="8.6" fill="none" stroke="#fff" stroke-width="4.2"/>
<path d="M52.5 14 L56.5 9.5 L66 21.5 Z" fill="#f5c21b"/>
</g>
<g id="alogo">
<g fill="#e8c21c">
<path d="M6 6 L10 6 L8 9.5 Z"/>
<path d="M4 10 L8 10 L6 13.5 Z"/><path d="M8.5 10 L12.5 10 L10.5 13.5 Z"/>
<path d="M2 14 L6 14 L4 17.5 Z"/><path d="M6.5 14 L10.5 14 L8.5 17.5 Z"/><path d="M11 14 L15 14 L13 17.5 Z"/>
</g>
<path d="M8 3 L10.5 0 L19.5 17.5 L15.5 17.5 Z" fill="#2db84a"/>
</g>
</defs>
<rect x="0" y="1693" width="1240" height="61" fill="#0b4072"/><rect x="0" y="1693" width="1240" height="1" fill="#08305a"/>
<text x="30.5" y="1721.3" font-size="18.6" fill="#f2f6fb" textLength="290.5" lengthAdjust="spacingAndGlyphs">Angel Broking Wins Global Marketing</text>
<text x="30.5" y="1740.7" font-size="18.6" fill="#f2f6fb" textLength="305" lengthAdjust="spacingAndGlyphs">Excellence Awards Across 90 Countries</text>
<!-- award 1 -->
<use href="#star" x="360" y="1695"/>
<text x="404.2" y="1719.9" font-size="21" font-weight="bold" fill="#eec878" textLength="138.7" lengthAdjust="spacingAndGlyphs">LAUNCH OF THE YEAR</text>
<use href="#arq" x="403.8" y="1726.5"/>
<!-- award 2 -->
<use href="#star" x="560.4" y="1694.5"/>
<text x="604" y="1719.6" font-size="21" font-weight="bold" fill="#eec878" textLength="189.8" lengthAdjust="spacingAndGlyphs">TECHNOLOGY EFFECTIVENESS</text>
<use href="#arq" x="604" y="1725"/>
<!-- award 3 -->
<use href="#star" x="815.1" y="1695.5"/>
<text x="859.2" y="1719.7" font-size="21" font-weight="bold" fill="#eec878" textLength="124.7" lengthAdjust="spacingAndGlyphs">BEST TRADING APP</text>
<use href="#alogo" x="860" y="1725"/>
<text x="884.2" y="1743.1" font-size="12.8" fill="#eef3fa" stroke="#eef3fa" stroke-width="0.25" textLength="74" lengthAdjust="spacingAndGlyphs">Angel Broking</text>
<text x="964.5" y="1743.1" font-size="12.8" font-weight="bold" fill="#fff" textLength="24.5" lengthAdjust="spacingAndGlyphs">App</text>
<!-- award 4: trophy -->
<radialGradient id="globe" cx="0.35" cy="0.3" r="0.7"><stop offset="0" stop-color="#d0e0ee"/><stop offset="0.6" stop-color="#8aa8c8"/><stop offset="1" stop-color="#4e6f92"/></radialGradient>
<circle cx="1036" cy="1709.2" r="8.4" fill="url(#globe)"/>
<path d="M1021 1712.5 Q1024 1713 1028 1716.5 Q1031 1718.5 1033.5 1717 L1038.5 1717 Q1041 1718.5 1044 1716.5 Q1048 1713 1050 1714 Q1047 1719 1042 1721.5 L1040 1726 Q1044 1730 1045 1734 L1027 1734 Q1028 1730 1032 1726 L1030 1721.5 Q1024 1719 1021 1712.5 Z" fill="#d9b44a"/>
<path d="M1033 1718 L1039 1718 L1038 1724 L1034 1724 Z" fill="#f2da8a"/>
<rect x="1023" y="1735" width="21.3" height="19" fill="#2e2218"/>
<rect x="1025.8" y="1738.8" width="15.7" height="13" fill="#d6b88e"/>
<circle cx="1028.8" cy="1745.3" r="2.4" fill="#b5373a"/>
<circle cx="1028.8" cy="1745.3" r="1" fill="#f0e0d0"/>
<text x="1055.4" y="1719.9" font-size="21" font-weight="bold" fill="#eec878" textLength="139.2" lengthAdjust="spacingAndGlyphs">MASTER BRAND 2016</text>
<use href="#alogo" x="1055.4" y="1726.5"/>
<text x="1078.6" y="1744" font-size="13.3" fill="#eef3fa" stroke="#eef3fa" stroke-width="0.25" textLength="77" lengthAdjust="spacingAndGlyphs">Angel Broking</text>
</svg>

</div>
</body></html>
